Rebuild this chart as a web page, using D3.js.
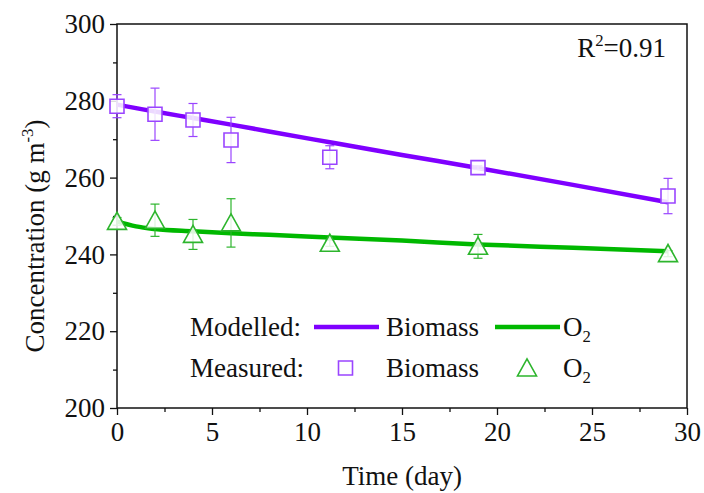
<!DOCTYPE html>
<html>
<head>
<meta charset="utf-8">
<script src="https://cdn.jsdelivr.net/npm/d3@7"></script>
<style>
    body { margin: 0; background: #fff; }
    svg text { font-family: "Liberation Serif", "Times New Roman", serif !important; fill: #111; }
</style>
</head>
<body>
<div id="draw_here"></div>
<script type="text/javascript">
    // Data
    timeMeas = [0, 2, 4, 6, 11.2, 19, 29]
    biomassMeas = [278.6, 276.5, 275.0, 269.8, 265.3, 262.6, 255.2]
    biomassErr = [3.0, 6.8, 4.3, 5.9, 3.0, 0.5, 4.6]
    o2Meas = [248.6, 248.9, 245.2, 248.2, 242.9, 242.1, 240.2]
    o2Err = [1.0, 4.2, 3.9, 6.3, 0.8, 3.1, 0.8]

    timeModel = [0, 1, 2, 4, 6, 8, 11.2, 15, 19, 24, 29]
    biomassModel = [279.0, 278.1, 277.2, 275.5, 273.8, 272.0, 269.2, 265.9, 262.5, 258.1, 253.6]
    o2Model = [248.6, 247.3, 246.6, 246.0, 245.5, 245.1, 244.4, 243.6, 242.6, 241.7, 240.8]

    xTicks = [0, 5, 10, 15, 20, 25, 30]
    yTicks = [200, 220, 240, 260, 280, 300]
    xlim = [0, 30]
    ylim = [200, 300]

    canvas = ({width: 704, height: 493})
    margin = ({top: 24, right: 17, bottom: 85, left: 117})
    purple = "#7f00ff"
    l_purple = "#9a45ff"
    green = "#00b800"
    l_green = "#2db52d"
    fs = 27
    serif = '"Liberation Serif", "Times New Roman", serif'

    x = d3.scaleLinear()
        .domain(xlim)
        .range([margin.left, canvas.width - margin.right])

    y = d3.scaleLinear()
        .domain(ylim)
        .range([canvas.height - margin.bottom, margin.top])

    var svg = d3.select("div#draw_here").append("svg")
        .attr("width", canvas.width)
        .attr("height", canvas.height)
        .attr("font-family", serif)
        .attr("viewBox", [0, 0, canvas.width, canvas.height])

    svg.append("rect")
        .attr("width", canvas.width).attr("height", canvas.height)
        .attr("fill", "#fff")

    // Axes (major + minor ticks, outward)
    xAxis = g => g
        .attr("transform", `translate(0,${y(ylim[0])})`)
        .call(d3.axisBottom(x).tickValues(xTicks).tickSize(7).tickSizeOuter(0).tickPadding(7))

    xMinor = g => g
        .attr("transform", `translate(0,${y(ylim[0])})`)
        .call(d3.axisBottom(x).tickValues(d3.range(2.5, 30, 5)).tickSize(4).tickSizeOuter(0).tickFormat(""))

    yAxis = g => g
        .attr("transform", `translate(${x(xlim[0])},0)`)
        .call(d3.axisLeft(y).tickValues(yTicks).tickSize(7).tickSizeOuter(0).tickPadding(5))

    yMinor = g => g
        .attr("transform", `translate(${x(xlim[0])},0)`)
        .call(d3.axisLeft(y).tickValues(d3.range(210, 300, 20)).tickSize(4).tickSizeOuter(0).tickFormat(""))

    ;[xAxis, xMinor, yAxis, yMinor].forEach(a => {
        var g = svg.append("g").call(a).attr("font-family", serif).attr("font-size", fs)
        g.selectAll("line").attr("stroke", "#111").attr("stroke-width", 1.3)
        g.select(".domain").remove()
        g.selectAll("text").attr("fill", "#111")
    })

    // Frame
    svg.append("rect")
        .attr("x", x(xlim[0])).attr("y", y(ylim[1]))
        .attr("width", x(xlim[1]) - x(xlim[0]))
        .attr("height", y(ylim[0]) - y(ylim[1]))
        .attr("fill", "none").attr("stroke", "#111").attr("stroke-width", 1.5)

    // Axis titles
    svg.append("text")
        .attr("x", (x(xlim[0]) + x(xlim[1])) / 2).attr("y", 485)
        .attr("text-anchor", "middle").attr("font-size", fs)
        .text("Time (day)")

    var yt = svg.append("text")
        .attr("transform", `translate(44,${(y(ylim[0]) + y(ylim[1])) / 2 + 20}) rotate(-90)`)
        .attr("text-anchor", "middle").attr("font-size", fs)
    yt.append("tspan").text("Concentration (g m")
    yt.append("tspan").attr("font-size", fs * 0.62).attr("dy", -11).text("-3")
    yt.append("tspan").attr("dy", 11).text(")")

    // Model lines
    line = d3.line()
        .x(d => x(d[0]))
        .y(d => y(d[1]))
        .curve(d3.curveMonotoneX)

    svg.append("path")
        .attr("fill", "none").attr("stroke", purple).attr("stroke-width", 4.5)
        .attr("stroke-linejoin", "round")
        .attr("d", line(d3.zip(timeModel, biomassModel)))

    svg.append("path")
        .attr("fill", "none").attr("stroke", green).attr("stroke-width", 4.5)
        .attr("stroke-linejoin", "round")
        .attr("d", line(d3.zip(timeModel, o2Model)))

    // Error bars
    function errorBars(vals, errs, color) {
        var g = svg.append("g").attr("stroke", color).attr("stroke-width", 1.2).attr("fill", "none")
        timeMeas.forEach((t, i) => {
            var cx = x(t), lo = y(vals[i] - errs[i]), hi = y(vals[i] + errs[i])
            g.append("line").attr("x1", cx).attr("x2", cx).attr("y1", lo).attr("y2", hi)
            g.append("line").attr("x1", cx - 4.5).attr("x2", cx + 4.5).attr("y1", lo).attr("y2", lo)
            g.append("line").attr("x1", cx - 4.5).attr("x2", cx + 4.5).attr("y1", hi).attr("y2", hi)
        })
    }
    errorBars(biomassMeas, biomassErr, l_purple)
    errorBars(o2Meas, o2Err, l_green)

    // Markers
    square = d3.symbol().type(d3.symbolSquare).size(196)
    tri = (cx, cy, s) => `M${cx},${cy - s * 0.48}L${cx + s / 2},${cy + s * 0.42}L${cx - s / 2},${cy + s * 0.42}Z`

    svg.append("g").selectAll("path")
        .data(d3.zip(timeMeas, biomassMeas))
        .join("path")
        .attr("transform", d => `translate(${x(d[0])},${y(d[1])})`)
        .attr("d", square())
        .attr("fill", "#fff").attr("fill-opacity", 0.85)
        .attr("stroke", l_purple).attr("stroke-width", 1.6)

    svg.append("g").selectAll("path")
        .data(d3.zip(timeMeas, o2Meas))
        .join("path")
        .attr("d", d => tri(x(d[0]), y(d[1]), 19))
        .attr("fill", "#fff").attr("fill-opacity", 0.85)
        .attr("stroke", l_green).attr("stroke-width", 1.6)

    // R^2 label
    var r2 = svg.append("text").attr("x", 666).attr("y", 57)
        .attr("text-anchor", "end").attr("font-size", fs)
    r2.append("tspan").text("R")
    r2.append("tspan").attr("font-size", fs * 0.62).attr("dy", -11).text("2")
    r2.append("tspan").attr("dy", 11).text("=0.91")

    // Legend
    function o2Label(xp, yp) {
        var t = svg.append("text").attr("x", xp).attr("y", yp).attr("font-size", fs)
        t.append("tspan").text("O")
        t.append("tspan").attr("font-size", fs * 0.62).attr("dy", 6).text("2")
    }
    var row1 = 336, row2 = 377
    svg.append("text").attr("x", 190).attr("y", row1).attr("font-size", fs).text("Modelled:")
    svg.append("line").attr("x1", 314).attr("x2", 379).attr("y1", row1 - 9).attr("y2", row1 - 9)
        .attr("stroke", purple).attr("stroke-width", 4.5)
    svg.append("text").attr("x", 386).attr("y", row1).attr("font-size", fs).text("Biomass")
    svg.append("line").attr("x1", 495).attr("x2", 560).attr("y1", row1 - 9).attr("y2", row1 - 9)
        .attr("stroke", green).attr("stroke-width", 4.5)
    o2Label(563, row1)

    svg.append("text").attr("x", 190).attr("y", row2).attr("font-size", fs).text("Measured:")
    svg.append("path")
        .attr("transform", `translate(345.5,${row2 - 9})`)
        .attr("d", square())
        .attr("fill", "none").attr("stroke", l_purple).attr("stroke-width", 1.6)
    svg.append("text").attr("x", 386).attr("y", row2).attr("font-size", fs).text("Biomass")
    svg.append("path")
        .attr("d", tri(527, row2 - 9, 19))
        .attr("fill", "none").attr("stroke", l_green).attr("stroke-width", 1.6)
    o2Label(563, row2)
</script>
</body>
</html>
